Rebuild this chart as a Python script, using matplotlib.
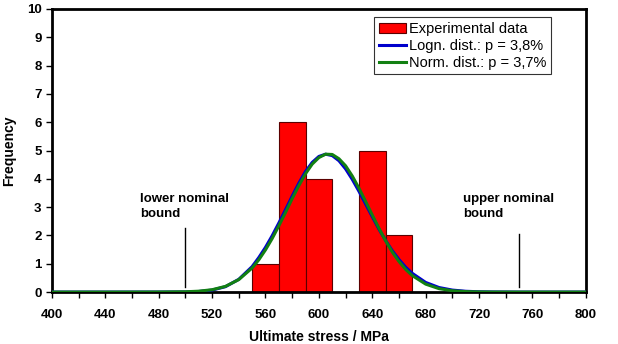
import numpy as np
import matplotlib
matplotlib.use('Agg')
import matplotlib.pyplot as plt

plt.rcParams['font.family'] = ['Liberation Sans', 'DejaVu Sans']

# histogram of ultimate stress
bin_left = [550, 570, 590, 610, 630, 650]
counts = [1, 6, 4, 0, 5, 2]
bin_width = 20

# fitted curves
logn_x = [400, 450, 480, 500, 510, 520, 530, 540, 550, 555, 560, 565, 570, 575, 580, 585, 590, 595,
          600, 605, 610, 615, 620, 625, 630, 635, 640, 645, 650, 655, 660, 665, 670, 680, 690,
          700, 710, 720, 730, 750, 800]
logn_y = [0, 0, 0.001, 0.005, 0.02, 0.07, 0.19, 0.45, 0.90, 1.22, 1.58, 1.99, 2.44, 2.91, 3.39, 3.85,
          4.26, 4.58, 4.79, 4.87, 4.82, 4.64, 4.35, 3.98, 3.56, 3.11, 2.66, 2.22, 1.82, 1.46, 1.15,
          0.88, 0.66, 0.34, 0.16, 0.07, 0.028, 0.01, 0.004, 0, 0]
norm_x = [400, 450, 480, 500, 510, 520, 530, 540, 550, 555, 560, 565, 570, 575, 580, 585, 590, 595,
          600, 605, 610, 615, 620, 625, 630, 635, 640, 645, 650, 655, 660, 665, 670, 680, 690,
          700, 710, 720, 730, 750, 800]
norm_y = [0, 0, 0.002, 0.010, 0.031, 0.083, 0.20, 0.44, 0.85, 1.14, 1.49, 1.89, 2.34, 2.81, 3.30, 3.76,
          4.18, 4.52, 4.75, 4.87, 4.86, 4.71, 4.46, 4.10, 3.67, 3.20, 2.72, 2.25, 1.81, 1.41, 1.08,
          0.80, 0.58, 0.28, 0.12, 0.047, 0.016, 0.005, 0.001, 0, 0]

lower_bound = 500
upper_bound = 750

fig = plt.figure(figsize=(6.18, 3.44), dpi=100)
ax = fig.add_axes([0.084, 0.151, 0.864, 0.823])

bars = ax.bar(bin_left, counts, width=bin_width, align='edge', color='#ff0000',
              edgecolor='#5a0000', linewidth=0.8, zorder=2)
l1, = ax.plot(logn_x, logn_y, color='#0000cc', lw=2.2, zorder=3)
l2, = ax.plot(norm_x, norm_y, color='#128012', lw=2.2, zorder=4)

ax.plot([lower_bound, lower_bound], [0.18, 2.25], color='black', lw=1)
ax.plot([upper_bound, upper_bound], [0.18, 2.05], color='black', lw=1)
ax.text(466, 3.5, 'lower nominal\nbound', fontsize=9.5, fontweight='bold', va='top', ha='left',
        linespacing=1.35)
ax.text(708, 3.5, 'upper nominal\nbound', fontsize=9.5, fontweight='bold', va='top', ha='left',
        linespacing=1.35)

ax.set_xlim(400, 800)
ax.set_ylim(0, 10)
ax.set_xticks(range(400, 801, 40))
ax.set_xticks(range(400, 801, 20), minor=True)
ax.set_yticks(range(0, 11))
ax.tick_params(axis='both', which='both', direction='out', width=1, labelsize=9.5)
ax.tick_params(axis='both', which='major', length=4)
ax.tick_params(axis='x', which='minor', length=4)
ax.tick_params(axis='x', pad=8)
for lab in ax.get_xticklabels() + ax.get_yticklabels():
    lab.set_fontweight('bold')
for s in ax.spines.values():
    s.set_linewidth(2)

ax.set_xlabel('Ultimate stress / MPa', fontsize=10, fontweight='bold', labelpad=7)
ax.set_ylabel('Frequency', fontsize=10, fontweight='bold', labelpad=8)

leg = ax.legend([bars, l1, l2],
                ['Experimental data', 'Logn. dist.: p = 3,8%', 'Norm. dist.: p = 3,7%'],
                loc='upper right', bbox_to_anchor=(0.935, 0.97), fontsize=10.5, frameon=True,
                fancybox=False, edgecolor='black', borderpad=0.3, labelspacing=0.2,
                handlelength=1.9, handletextpad=0.2, borderaxespad=0)
leg.get_frame().set_linewidth(0.8)

fig.savefig('out.png', dpi=100)
